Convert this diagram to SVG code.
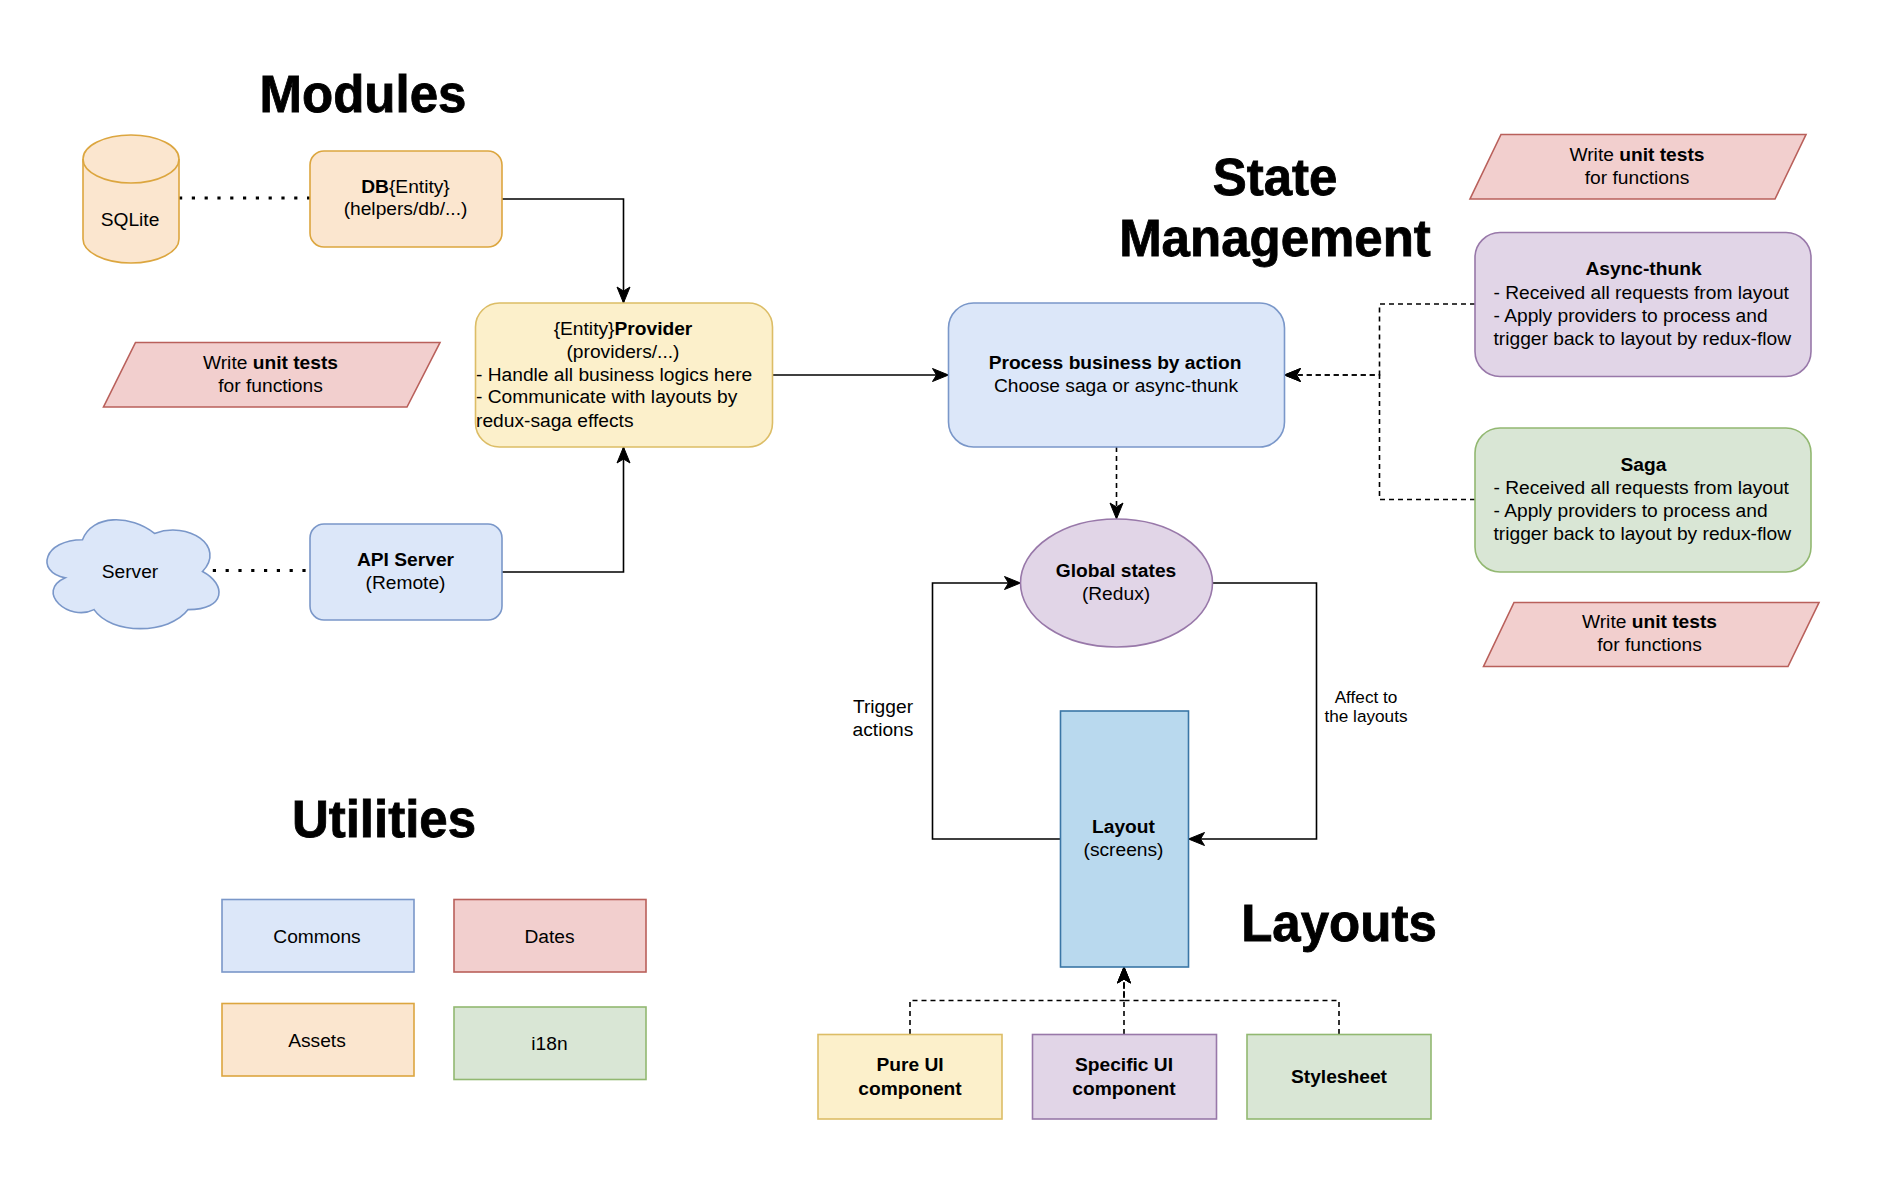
<svg xmlns="http://www.w3.org/2000/svg" width="1900" height="1178" viewBox="0 0 1900 1178">
<defs>
<style>
text{font-family:"Liberation Sans",Arial,Helvetica,sans-serif;font-size:19.2px;fill:#000;text-anchor:middle}
.b{font-weight:700}
.l{text-anchor:start}
.t{font-size:51px;font-weight:700;stroke:#000;stroke-width:.8}
.s{font-size:17.2px}
.blue{fill:#dce7f9;stroke:#7a97c9}
.orange{fill:#fbe6cf;stroke:#dca63f}
.yellow{fill:#fcf0cb;stroke:#dcbd66}
.red{fill:#f2cfce;stroke:#b9605b}
.purple{fill:#e1d5e7;stroke:#9878a9}
.green{fill:#d9e6d5;stroke:#92b871}
.lay{fill:#b9d9ee;stroke:#3a76a6}
rect,path.n,ellipse{stroke-width:1.6}
#connectors path{fill:none;stroke:#000;stroke-width:1.6}
.dash{stroke-dasharray:5 4}
#connectors path.dot{stroke-dasharray:3.200 9.600;stroke-width:3.200}
</style>
<marker id="arrow" markerUnits="userSpaceOnUse" markerWidth="18" markerHeight="16" refX="17" refY="8" orient="auto">
<path d="M1 1.500 L17 8 L1 14.500 L5 8 Z" fill="#000" stroke="#000" stroke-width="1"/>
</marker>
</defs>
<rect x="0" y="0" width="1900" height="1178" style="fill:#fff;stroke:none"/>

<g id="titles">
<text class="t" x="363" y="112">Modules</text>
<text class="t" x="1275" y="195">State</text>
<text class="t" x="1275" y="256">Management</text>
<text class="t" x="384" y="837">Utilities</text>
<text class="t" x="1339" y="941">Layouts</text>
</g>

<g id="connectors">
<path class="dot" d="M179 198H310"/>
<path class="dot" d="M200 570.500H310"/>
<path d="M502 199H623.500V303" marker-end="url(#arrow)"/>
<path d="M502 572H623.500V447" marker-end="url(#arrow)"/>
<path d="M772.500 375H948.500" marker-end="url(#arrow)"/>
<path class="dash" d="M1116.500 447V519" marker-end="url(#arrow)"/>
<path class="dash" d="M1475 304H1379.500V375H1284.500" marker-end="url(#arrow)"/>
<path class="dash" d="M1475 499.500H1379.500V375H1284.500" marker-end="url(#arrow)"/>
<path d="M1212.500 583H1316.500V839H1188.500" marker-end="url(#arrow)"/>
<path d="M1060.500 839H932.500V583H1020.500" marker-end="url(#arrow)"/>
<path class="dash" d="M910 1034V1000.500H1124V967" marker-end="url(#arrow)"/>
<path class="dash" d="M1124 1034V967" marker-end="url(#arrow)"/>
<path class="dash" d="M1339 1034V1000.500H1124V967" marker-end="url(#arrow)"/>
</g>

<g id="sqlite">
<path class="n orange" d="M83 159A48 24 0 0 1 179 159V239A48 24 0 0 1 83 239Z"/>
<path class="n orange" style="fill:none" d="M83 159A48 24 0 0 0 179 159"/>
<text x="130" y="226">SQLite</text>
</g>
<g id="db-entity">
<rect class="orange" x="310" y="151" width="192" height="96" rx="14"/>
<text x="405.500" y="193"><tspan class="b">DB</tspan>{Entity}</text>
<text x="405.500" y="215">(helpers/db/...)</text>
</g>
<g id="provider">
<rect class="yellow" x="475.500" y="303" width="297" height="144" rx="24"/>
<text x="623" y="335">{Entity}<tspan class="b">Provider</tspan></text>
<text x="623" y="358">(providers/...)</text>
<text class="l" x="476" y="381">- Handle all business logics here</text>
<text class="l" x="476" y="403">- Communicate with layouts by</text>
<text class="l" x="476" y="427">redux-saga effects</text>
</g>
<g id="tests-left">
<path class="n red" d="M135.500 342.500H440L407 407H103.500Z"/>
<text x="270.500" y="369">Write <tspan class="b">unit tests</tspan></text>
<text x="270.500" y="392">for functions</text>
</g>
<g id="server">
<path class="n blue" vector-effect="non-scaling-stroke" transform="translate(34.500 508) scale(1.92 1.27)" d="M25 25C5 25 0 50 16 55C0 66 18 90 31 80C40 100 70 100 80 80C100 80 100 60 87.500 50C100 30 80 10 62.500 20C50 5 30 5 25 25Z"/>
<text x="130" y="578">Server</text>
</g>
<g id="api-server">
<rect class="blue" x="310" y="524" width="192" height="96" rx="14"/>
<text class="b" x="405.500" y="566">API Server</text>
<text x="405.500" y="589">(Remote)</text>
</g>
<g id="process">
<rect class="blue" x="948.500" y="303" width="336" height="144" rx="25"/>
<text class="b" x="1115" y="369">Process business by action</text>
<text x="1116" y="392">Choose saga or async-thunk</text>
</g>
<g id="tests-top">
<path class="n red" d="M1501 134.500H1806L1775 199H1470Z"/>
<text x="1637" y="161">Write <tspan class="b">unit tests</tspan></text>
<text x="1637" y="184">for functions</text>
</g>
<g id="async-thunk">
<rect class="purple" x="1475" y="232.500" width="336" height="144" rx="25"/>
<text class="b" x="1643.500" y="275">Async-thunk</text>
<text class="l" x="1493.500" y="299">- Received all requests from layout</text>
<text class="l" x="1493.500" y="322">- Apply providers to process and</text>
<text class="l" x="1493.500" y="345">trigger back to layout by redux-flow</text>
</g>
<g id="saga">
<rect class="green" x="1475" y="428" width="336" height="144" rx="25"/>
<text class="b" x="1643.500" y="471">Saga</text>
<text class="l" x="1493.500" y="494">- Received all requests from layout</text>
<text class="l" x="1493.500" y="517">- Apply providers to process and</text>
<text class="l" x="1493.500" y="540">trigger back to layout by redux-flow</text>
</g>
<g id="tests-bottom">
<path class="n red" d="M1514 602.500H1819L1788 666.500H1483.500Z"/>
<text x="1649.500" y="628">Write <tspan class="b">unit tests</tspan></text>
<text x="1649.500" y="651">for functions</text>
</g>
<g id="global-states">
<ellipse class="purple" cx="1116.500" cy="583" rx="96" ry="64"/>
<text class="b" x="1116" y="577">Global states</text>
<text x="1116" y="600">(Redux)</text>
</g>
<g id="layout">
<rect class="lay" x="1060.500" y="711" width="128" height="256"/>
<text class="b" x="1123.500" y="833">Layout</text>
<text x="1123.500" y="856">(screens)</text>
</g>
<g id="pure-ui">
<rect class="yellow" x="818" y="1034.500" width="184" height="84.500"/>
<text class="b" x="910" y="1071">Pure UI</text>
<text class="b" x="910" y="1095">component</text>
</g>
<g id="specific-ui">
<rect class="purple" x="1032.500" y="1034.500" width="184" height="84.500"/>
<text class="b" x="1124" y="1071">Specific UI</text>
<text class="b" x="1124" y="1095">component</text>
</g>
<g id="stylesheet">
<rect class="green" x="1247" y="1034.500" width="184" height="84.500"/>
<text class="b" x="1339" y="1083">Stylesheet</text>
</g>
<g id="commons">
<rect class="blue" x="222" y="899.500" width="192" height="72.500"/>
<text x="317" y="943">Commons</text>
</g>
<g id="dates">
<rect class="red" x="454" y="899.500" width="192" height="72.500"/>
<text x="549.500" y="943">Dates</text>
</g>
<g id="assets">
<rect class="orange" x="222" y="1003.500" width="192" height="72.500"/>
<text x="317" y="1047">Assets</text>
</g>
<g id="i18n">
<rect class="green" x="454" y="1007" width="192" height="72.500"/>
<text x="549.500" y="1050">i18n</text>
</g>
<g id="edge-labels">
<text x="883" y="712.500">Trigger</text>
<text x="883" y="736">actions</text>
<text class="s" x="1366" y="702.500">Affect to</text>
<text class="s" x="1366" y="722">the layouts</text>
</g>
</svg>
